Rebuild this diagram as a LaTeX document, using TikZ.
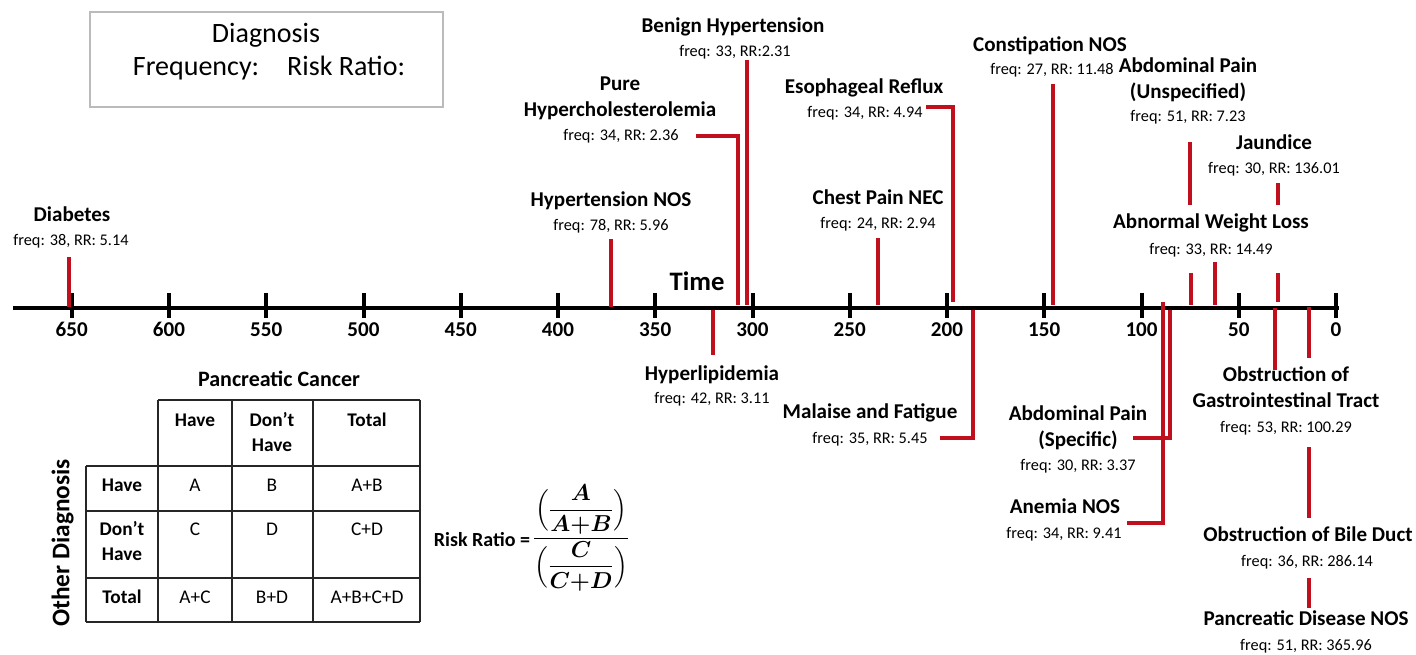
\documentclass[tikz,border=0pt]{standalone}
\usepackage{fontspec}
\setmainfont{Carlito}
\usepackage{amsmath}
\usepackage{bm}
\definecolor{rl}{HTML}{C0101E}
\definecolor{boxgray}{HTML}{BBBBBB}
\begin{document}
\begin{tikzpicture}[x=0.75pt,y=-0.75pt,
  every node/.style={inner sep=0pt, outer sep=0pt, text height=0.7em, text depth=0.2em},
  nm/.style={font=\fontsize{15.8}{18}\selectfont\bfseries},
  fq/.style={font=\fontsize{12.2}{14}\selectfont},
  tk/.style={font=\fontsize{15.8}{18}\selectfont\bfseries},
  cell/.style={font=\fontsize{14.5}{16}\selectfont},
  bcell/.style={font=\fontsize{14.5}{16}\selectfont\bfseries},
  rline/.style={draw=rl, line width=3pt},
  axisline/.style={draw=black, line width=3pt},
  tickline/.style={draw=black, line width=3pt},
  grid/.style={draw=black!85, line width=1.2pt}]
\useasboundingbox (0,0) rectangle (1416,655);

% legend box
\draw[boxgray, line width=1pt] (90,12) rectangle (443,107);
\node[font=\fontsize{21}{24}\selectfont] (legA) at (266,39) {Diagnosis};
\node[font=\fontsize{21}{24}\selectfont] (legB) at (269,72) {Frequency:\hspace{1em}Risk Ratio:};

% axis
\coordinate (axL) at (13,308);
\coordinate (axR) at (1339,308);
\draw[axisline] (axL) -- (axR);
\foreach \t in {650,600,...,0}{
  \pgfmathsetmacro{\xx}{1336-1.945*\t}
  \coordinate (tkT\t) at (\xx,293);
  \coordinate (tkB\t) at (\xx,318);
  \draw[tickline] (tkT\t) -- (tkB\t);
  \node[tk] (tl\t) at (\xx,333) {\t};
}
\node[font=\fontsize{20}{24}\selectfont\bfseries] (time) at (697,287) {Time};

% labels above
\node[nm] (diaN) at (72,218) {Diabetes};
\node[fq] (diaF) at (71,242) {freq: 38, RR: 5.14};
\node[nm] (htnN) at (611,203) {Hypertension NOS};
\node[fq] (htnF) at (611,227) {freq: 78, RR: 5.96};
\node[nm] (phN1) at (620,87) {Pure};
\node[nm] (phN2) at (620,113) {Hypercholesterolemia};
\node[fq] (phF) at (621,137) {freq: 34, RR: 2.36};
\node[nm] (bhN) at (733,29) {Benign Hypertension};
\node[fq] (bhF) at (735,53) {freq: 33, RR:2.31};
\node[nm] (erN) at (864,90) {Esophageal Reflux};
\node[fq] (erF) at (865,114) {freq: 34, RR: 4.94};
\node[nm] (cpN) at (878,201) {Chest Pain NEC};
\node[fq] (cpF) at (878,225) {freq: 24, RR: 2.94};
\node[nm] (coN) at (1050,48) {Constipation NOS};
\node[fq] (coF) at (1052,71) {freq: 27, RR: 11.48};
\node[nm] (auN1) at (1188,69) {Abdominal Pain};
\node[nm] (auN2) at (1188,95) {(Unspecified)};
\node[fq] (auF) at (1188,118) {freq: 51, RR: 7.23};
\node[nm] (jaN) at (1274,146) {Jaundice};
\node[fq] (jaF) at (1274,170) {freq: 30, RR: 136.01};
\node[nm] (awN) at (1211,225) {Abnormal Weight Loss};
\node[fq] (awF) at (1211,251) {freq: 33, RR: 14.49};

% labels below
\node[nm] (hlN) at (712,377) {Hyperlipidemia};
\node[fq] (hlF) at (712,400) {freq: 42, RR: 3.11};
\node[nm] (mfN) at (870,415) {Malaise and Fatigue};
\node[fq] (mfF) at (870,440) {freq: 35, RR: 5.45};
\node[nm] (asN1) at (1078,417) {Abdominal Pain};
\node[nm] (asN2) at (1078,443) {(Specific)};
\node[fq] (asF) at (1078,467) {freq: 30, RR: 3.37};
\node[nm] (anN) at (1065,510) {Anemia NOS};
\node[fq] (anF) at (1064,535) {freq: 34, RR: 9.41};
\node[nm] (giN1) at (1286,378) {Obstruction of};
\node[nm] (giN2) at (1286,404) {Gastrointestinal Tract};
\node[fq] (giF) at (1286,429) {freq: 53, RR: 100.29};
\node[nm] (bdN) at (1308,538) {Obstruction of Bile Duct};
\node[fq] (bdF) at (1307,563) {freq: 36, RR: 286.14};
\node[nm] (pdN) at (1306,622) {Pancreatic Disease NOS};
\node[fq] (pdF) at (1306,647) {freq: 51, RR: 365.96};

% red connector lines
\coordinate (d1) at (69,257); \coordinate (d2) at (69,307);
\draw[rline] (d1) -- (d2);
\coordinate (h1) at (611,239); \coordinate (h2) at (611,307);
\draw[rline] (h1) -- (h2);
\coordinate (l1) at (713,310); \coordinate (l2) at (713,355);
\draw[rline] (l1) -- (l2);
\coordinate (p1) at (696,136); \coordinate (p2) at (738,136); \coordinate (p3) at (738,305);
\draw[rline] (p1) -- (p2) -- (p3);
\coordinate (b1) at (747,60); \coordinate (b2) at (747,305);
\draw[rline] (b1) -- (b2);
\coordinate (c1) at (878,238); \coordinate (c2) at (878,305);
\draw[rline] (c1) -- (c2);
\coordinate (e1) at (926,107); \coordinate (e2) at (953,107); \coordinate (e3) at (953,302);
\draw[rline] (e1) -- (e2) -- (e3);
\coordinate (m1) at (973,310); \coordinate (m2) at (973,438); \coordinate (m3) at (940,438);
\draw[rline] (m1) -- (m2) -- (m3);
\coordinate (k1) at (1053,84); \coordinate (k2) at (1053,305);
\draw[rline] (k1) -- (k2);
\coordinate (u1) at (1190,142); \coordinate (u2) at (1190,205);
\coordinate (u3) at (1191,273); \coordinate (u4) at (1191,305);
\draw[rline] (u1) -- (u2);
\draw[rline] (u3) -- (u4);
\coordinate (j1) at (1278,183); \coordinate (j2) at (1278,205);
\coordinate (j3) at (1278,273); \coordinate (j4) at (1278,302);
\draw[rline] (j1) -- (j2);
\draw[rline] (j3) -- (j4);
\coordinate (w1) at (1215,262); \coordinate (w2) at (1215,305);
\draw[rline] (w1) -- (w2);
\coordinate (a1) at (1163,302); \coordinate (a2) at (1163,523); \coordinate (a3) at (1127,523);
\draw[rline] (a1) -- (a2) -- (a3);
\coordinate (s1) at (1170,310); \coordinate (s2) at (1170,438); \coordinate (s3) at (1133,438);
\draw[rline] (s1) -- (s2) -- (s3);
\coordinate (g1) at (1275,308); \coordinate (g2) at (1275,370);
\draw[rline] (g1) -- (g2);
\coordinate (o1) at (1309,307); \coordinate (o2) at (1309,358);
\coordinate (o3) at (1309,447); \coordinate (o4) at (1309,518);
\coordinate (o5) at (1309,578); \coordinate (o6) at (1309,608);
\draw[rline] (o1) -- (o2);
\draw[rline] (o3) -- (o4);
\draw[rline] (o5) -- (o6);

% contingency table
\node[font=\fontsize{16.5}{19}\selectfont\bfseries] (pc) at (279,383) {Pancreatic Cancer};
\draw[grid] (158,400) -- (420,400);
\draw[grid] (86,466) -- (420,466);
\draw[grid] (86,511) -- (420,511);
\draw[grid] (86,578) -- (420,578);
\draw[grid] (86,622) -- (420,622);
\draw[grid] (86,466) -- (86,622);
\draw[grid] (158,400) -- (158,622);
\draw[grid] (232,400) -- (232,622);
\draw[grid] (313,400) -- (313,622);
\draw[grid] (420,400) -- (420,622);
\node[bcell] (h11) at (195,423) {Have};
\node[bcell] (h12a) at (272,423) {Don’t};
\node[bcell] (h12b) at (272,448) {Have};
\node[bcell] (h13) at (367,423) {Total};
\node[bcell] (r1) at (122,488) {Have};
\node[cell] (cA) at (195,488) {A};
\node[cell] (cB) at (272,488) {B};
\node[cell] (cAB) at (367,488) {A+B};
\node[bcell] (r2a) at (122,532) {Don’t};
\node[bcell] (r2b) at (122,557) {Have};
\node[cell] (cC) at (195,532) {C};
\node[cell] (cD) at (272,532) {D};
\node[cell] (cCD) at (367,532) {C+D};
\node[bcell] (r3) at (122,600) {Total};
\node[cell] (cAC) at (195,600) {A+C};
\node[cell] (cBD) at (272,600) {B+D};
\node[cell] (cAll) at (367,600) {A+B+C+D};
\node[font=\fontsize{19}{22}\selectfont\bfseries, rotate=90] (od) at (66,543) {Other Diagnosis};

% risk ratio formula
\node[font=\fontsize{15}{18}\selectfont\bfseries] (rr) at (482,543) {Risk Ratio =};
\node[text height=, text depth=, font=\fontsize{17.5}{20}\selectfont] (frm) at (581,538)
  {$\dfrac{\Bigl(\dfrac{\bm{A}}{\bm{A{+}B}}\Bigr)}{\Bigl(\dfrac{\bm{C}}{\bm{C{+}D}}\Bigr)}$};
\end{tikzpicture}
\end{document}
